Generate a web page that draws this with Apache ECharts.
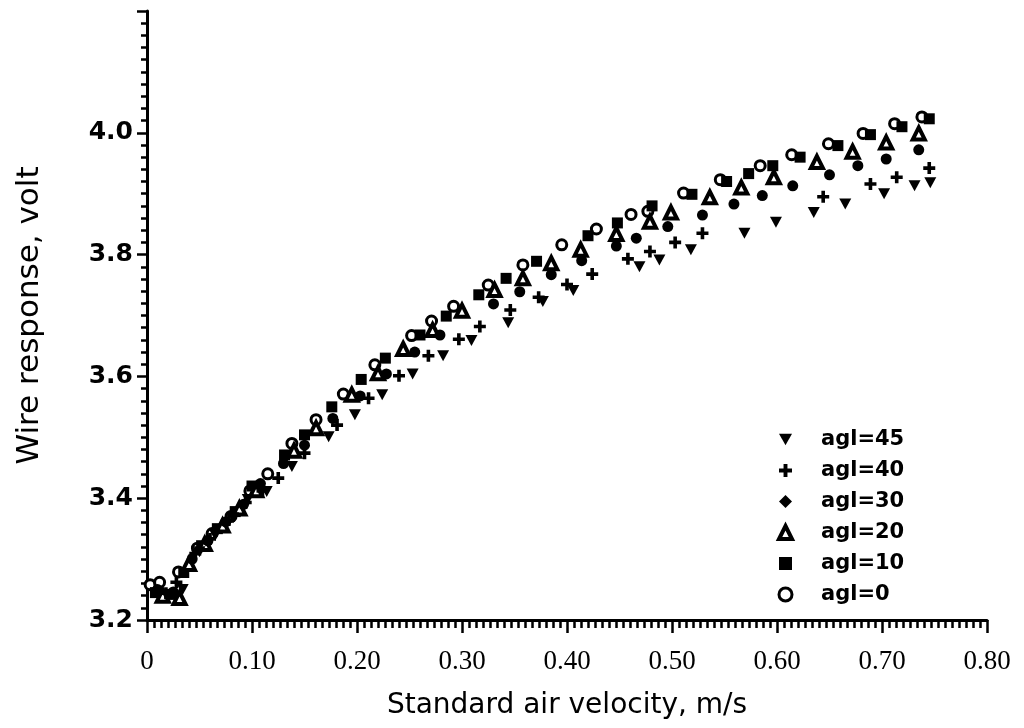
<!DOCTYPE html>
<html>
<head>
<meta charset="utf-8">
<script src="https://cdn.jsdelivr.net/npm/echarts@6/dist/echarts.min.js"></script>
<style>
html,body{margin:0;padding:0;background:#fff;}
#chart{width:1024px;height:728px;}
</style>
</head>
<body>
<div id="chart"></div>
<script>
// ---- data (x = standard air velocity m/s, y = wire response volt) ----
const xTicks = [0, 0.1, 0.2, 0.3, 0.4, 0.5, 0.6, 0.7, 0.8];
const yTicks = [3.2, 3.4, 3.6, 3.8, 4.0];
const seriesNames = ['agl=45', 'agl=40', 'agl=30', 'agl=20', 'agl=10', 'agl=0'];

const agl0 = [[0.003,3.258],[0.012,3.262],[0.030,3.279],[0.048,3.318],[0.062,3.342],[0.080,3.370],[0.098,3.412],[0.115,3.440],
  [0.138,3.490],[0.161,3.529],[0.187,3.571],[0.217,3.619],[0.252,3.667],[0.271,3.691],[0.292,3.715],[0.325,3.750],[0.358,3.783],
  [0.395,3.816],[0.428,3.842],[0.461,3.866],[0.477,3.871],[0.511,3.901],[0.546,3.923],[0.584,3.946],[0.614,3.964],[0.649,3.982],
  [0.682,3.999],[0.712,4.015],[0.738,4.026]];
const agl10 = [[0.008,3.245],[0.022,3.242],[0.035,3.278],[0.052,3.322],[0.067,3.350],[0.084,3.378],[0.100,3.420],[0.131,3.471],
  [0.150,3.504],[0.176,3.550],[0.204,3.595],[0.227,3.630],[0.260,3.668],[0.285,3.699],[0.316,3.734],[0.342,3.761],[0.371,3.789],
  [0.420,3.831],[0.448,3.852],[0.481,3.880],[0.519,3.899],[0.552,3.920],[0.573,3.933],[0.596,3.946],[0.622,3.960],[0.658,3.979],
  [0.689,3.997],[0.719,4.010],[0.745,4.023]];
const agl20 = [[0.015,3.240],[0.031,3.236],[0.040,3.292],[0.055,3.325],[0.072,3.355],[0.088,3.383],[0.104,3.413],[0.140,3.478],
  [0.161,3.515],[0.195,3.570],[0.220,3.605],[0.244,3.645],[0.272,3.676],[0.300,3.708],[0.331,3.742],[0.358,3.761],[0.385,3.786],
  [0.413,3.808],[0.447,3.834],[0.479,3.854],[0.499,3.869],[0.536,3.894],[0.566,3.910],[0.597,3.927],[0.638,3.952],[0.672,3.969],
  [0.704,3.984],[0.735,3.999]];
const agl30 = [[0.010,3.250],[0.025,3.246],[0.043,3.300],[0.058,3.330],[0.075,3.361],[0.092,3.390],[0.108,3.424],[0.130,3.457],
  [0.150,3.487],[0.177,3.531],[0.203,3.568],[0.228,3.604],[0.255,3.640],[0.279,3.668],[0.330,3.719],[0.355,3.739],[0.385,3.767],
  [0.414,3.790],[0.447,3.814],[0.466,3.827],[0.496,3.846],[0.529,3.865],[0.559,3.883],[0.586,3.897],[0.615,3.913],[0.650,3.931],
  [0.677,3.946],[0.704,3.957],[0.735,3.972]];
const agl40 = [[0.018,3.244],[0.028,3.262],[0.046,3.309],[0.060,3.333],[0.078,3.364],[0.094,3.393],[0.110,3.412],[0.125,3.433],
  [0.150,3.474],[0.181,3.520],[0.211,3.564],[0.240,3.601],[0.268,3.634],[0.297,3.661],[0.317,3.682],[0.346,3.709],[0.373,3.730],
  [0.400,3.751],[0.424,3.768],[0.458,3.793],[0.479,3.805],[0.503,3.820],[0.529,3.835],[0.644,3.895],[0.689,3.916],[0.714,3.927],
  [0.745,3.942]];
const agl45 = [[0.020,3.238],[0.034,3.250],[0.050,3.312],[0.065,3.339],[0.082,3.368],[0.096,3.398],[0.114,3.411],[0.138,3.452],
  [0.173,3.501],[0.198,3.537],[0.224,3.570],[0.253,3.604],[0.282,3.634],[0.309,3.659],[0.344,3.688],[0.377,3.723],[0.406,3.741],
  [0.469,3.780],[0.488,3.791],[0.518,3.808],[0.569,3.835],[0.599,3.853],[0.635,3.869],[0.665,3.883],[0.702,3.900],[0.731,3.913],
  [0.746,3.918]];

// ---- chart ----
const PLUS = 'path://M3.5,0H6.5V3.5H10V6.5H6.5V10H3.5V6.5H0V3.5H3.5Z';
const INVTRI = 'path://M0,0L10,0L5,9Z';
const dataBySeries = [agl45, agl40, agl30, agl20, agl10, agl0];
const styles = [
  {symbol:INVTRI, symbolSize:[12,11], itemStyle:{color:'#000', opacity:1}},
  {symbol:PLUS, symbolSize:12, itemStyle:{color:'#000', opacity:1}},
  {symbol:'circle', symbolSize:11, itemStyle:{color:'#000', opacity:1}},
  {symbol:'triangle', symbolSize:12, itemStyle:{color:'#fff', borderColor:'#000', borderWidth:4, opacity:1}},
  {symbol:'rect', symbolSize:11, itemStyle:{color:'#000', opacity:1}},
  {symbol:'circle', symbolSize:10, itemStyle:{color:'#fff', borderColor:'#000', borderWidth:3, opacity:1}}
];
const legendIcons = [INVTRI, PLUS, 'diamond', 'triangle', 'rect', 'circle'];
const legendStyles = [
  {color:'#000', opacity:1}, {color:'#000', opacity:1}, {color:'#000', opacity:1},
  {color:'#fff', borderColor:'#000', borderWidth:4, opacity:1},
  {color:'#000', opacity:1},
  {color:'#fff', borderColor:'#000', borderWidth:3, opacity:1}
];

const chart = echarts.init(document.getElementById('chart'), null, {renderer:'canvas'});
chart.setOption({
  animation: false,
  backgroundColor: '#fff',
  grid: {left:147, right:37, top:11, bottom:108, containLabel:false, outerBoundsMode:'none'},
  legend: {
    orient: 'vertical',
    left: 772, top: 424,
    itemWidth: 13, itemHeight: 13, itemGap: 10,
    data: seriesNames.map((n,i)=>({name:n, icon: legendIcons[i], itemStyle: legendStyles[i]})),
    textStyle: {color:'#000', fontFamily:'DejaVu Sans', fontWeight:'bold', fontSize:21, padding:[0,0,0,24]}
  },
  xAxis: {
    type:'value', min:xTicks[0], max:xTicks[xTicks.length-1], interval:0.1,
    name:'Standard air velocity, m/s', nameLocation:'middle', nameGap:72,
    nameTextStyle:{color:'#000', fontFamily:'DejaVu Sans', fontSize:28},
    axisLine:{lineStyle:{color:'#000', width:3}},
    axisTick:{show:true, inside:false, length:13, lineStyle:{color:'#000', width:2.5}},
    minorTick:{show:true, splitNumber:15, length:8, lineStyle:{color:'#000', width:2.5}},
    splitLine:{show:false},
    axisLabel:{color:'#000', fontFamily:'Liberation Serif', fontSize:27, margin:28,
      formatter: v => (Math.abs(v) < 1e-9 ? '0' : v.toFixed(2))}
  },
  yAxis: {
    type:'value', min:3.2, max:4.2, interval:0.2,
    name:'Wire response, volt', nameLocation:'middle', nameGap:102, nameRotate:90,
    nameTextStyle:{color:'#000', fontFamily:'DejaVu Sans', fontSize:31},
    axisLine:{lineStyle:{color:'#000', width:3}},
    axisTick:{show:true, inside:false, length:10, lineStyle:{color:'#000', width:2.5}},
    minorTick:{show:true, splitNumber:10, length:6, lineStyle:{color:'#000', width:2.5}},
    splitLine:{show:false},
    axisLabel:{color:'#000', fontFamily:'DejaVu Sans', fontWeight:'bold', fontSize:25, margin:14,
      formatter: v => (yTicks.some(t => Math.abs(t - v) < 1e-6) ? v.toFixed(1) : '')}
  },
  series: seriesNames.map((n,i)=>Object.assign({
    name:n, type:'scatter', data:dataBySeries[i], z: 10 - i
  }, styles[i]))
});
</script>
</body>
</html>
